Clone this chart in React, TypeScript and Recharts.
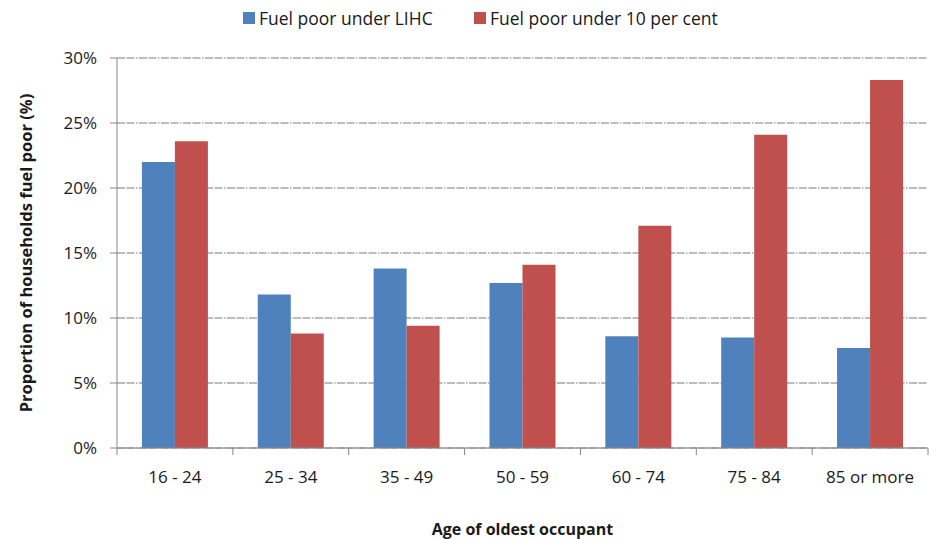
import React from 'react';
import { BarChart, Bar, XAxis, YAxis, CartesianGrid, Legend, Label } from 'recharts';

const categories = ['16 - 24', '25 - 34', '35 - 49', '50 - 59', '60 - 74', '75 - 84', '85 or more'];
const lihcValues = [22.0, 11.8, 13.8, 12.7, 8.6, 8.5, 7.7];
const tenPerCentValues = [23.6, 8.8, 9.4, 14.1, 17.1, 24.1, 28.3];
const yTicks = [0, 5, 10, 15, 20, 25, 30];
const seriesNames = ['Fuel poor under LIHC', 'Fuel poor under 10 per cent'];
const seriesColors = ['#4F81BD', '#C0504D'];

const data = categories.map((c, i) => ({
  category: c,
  lihc: lihcValues[i],
  ten: tenPerCentValues[i],
}));

const W = 936;
const H = 539;
const MARGIN = { top: 58, right: 8, left: 0, bottom: 0 };
const Y_AXIS_W = 117;
const X_AXIS_H = 91;
const PLOT_W = W - MARGIN.left - MARGIN.right - Y_AXIS_W;
const BAND = PLOT_W / categories.length;
const FONT = '"Open Sans", sans-serif';
const AXIS_COLOR = '#868686';
const TEXT_COLOR = '#1a1a1a';

const XTick = (props: any) => {
  const { x, y, payload, index } = props;
  const left = x - BAND / 2;
  const right = x + BAND / 2;
  return (
    <g>
      <line x1={left} x2={left} y1={y} y2={y + 7} stroke={AXIS_COLOR} strokeWidth={1} />
      {index === categories.length - 1 && (
        <line x1={right} x2={right} y1={y} y2={y + 7} stroke={AXIS_COLOR} strokeWidth={1} />
      )}
      <text x={x} y={y + 35} textAnchor="middle" fontFamily={FONT} fontSize={17} fill={TEXT_COLOR}>
        {payload.value}
      </text>
    </g>
  );
};

const LegendContent = () => (
  <div style={{ position: 'relative', height: 24, fontFamily: FONT, fontSize: 17.5, color: TEXT_COLOR }}>
    {seriesNames.map((name, i) => (
      <div
        key={name}
        style={{
          position: 'absolute',
          left: i * 231,
          top: 0,
          height: 24,
          display: 'flex',
          alignItems: 'center',
          whiteSpace: 'nowrap',
        }}
      >
        <span style={{ display: 'inline-block', width: 12, height: 12, background: seriesColors[i], marginRight: 4 }} />
        <span>{name}</span>
      </div>
    ))}
  </div>
);

export default function App() {
  return (
    <div style={{ position: 'absolute', left: 0, top: 0, width: W, height: H, background: '#fff' }}>
      <BarChart width={W} height={H} data={data} margin={MARGIN} barCategoryGap="21.5%" barGap={0}>
        <CartesianGrid
          vertical={false}
          stroke="#7a7a7a"
          strokeDasharray="8 1.5 8 1.5 1.5 1.5"
        />
        <XAxis
          dataKey="category"
          height={X_AXIS_H}
          axisLine={{ stroke: AXIS_COLOR }}
          tickLine={false}
          tickSize={0}
          tickMargin={0}
          tick={<XTick />}
          interval={0}
        >
          <Label
            content={(p: any) => {
              const vb = p.viewBox;
              return (
                <text
                  x={vb.x + vb.width / 2}
                  y={535}
                  textAnchor="middle"
                  fontFamily={FONT}
                  fontSize={16}
                  fontWeight="bold"
                  fill={TEXT_COLOR}
                >
                  Age of oldest occupant
                </text>
              );
            }}
          />
        </XAxis>
        <YAxis
          width={Y_AXIS_W}
          domain={[0, 30]}
          ticks={yTicks}
          interval={0}
          tickFormatter={(v: number) => `${v}%`}
          axisLine={{ stroke: AXIS_COLOR }}
          tickLine={{ stroke: AXIS_COLOR }}
          tickSize={7}
          tickMargin={13}
          tick={{ fontFamily: FONT, fontSize: 17, fill: TEXT_COLOR }}
        >
          <Label
            content={(p: any) => {
              const vb = p.viewBox;
              const cx = 25;
              const cy = vb.y + vb.height / 2;
              return (
                <text
                  x={cx}
                  y={cy}
                  transform={`rotate(-90, ${cx}, ${cy})`}
                  textAnchor="middle"
                  dominantBaseline="central"
                  fontFamily={FONT}
                  fontSize={16.5}
                  fontWeight="bold"
                  fill={TEXT_COLOR}
                >
                  Proportion of households fuel poor (%)
                </text>
              );
            }}
          />
        </YAxis>
        <Legend
          verticalAlign="middle"
          align="center"
          wrapperStyle={{ left: 243, top: 6, width: 520 }}
          content={<LegendContent />}
        />
        <Bar dataKey="lihc" name={seriesNames[0]} fill={seriesColors[0]} isAnimationActive={false} />
        <Bar dataKey="ten" name={seriesNames[1]} fill={seriesColors[1]} isAnimationActive={false} />
      </BarChart>
    </div>
  );
}
